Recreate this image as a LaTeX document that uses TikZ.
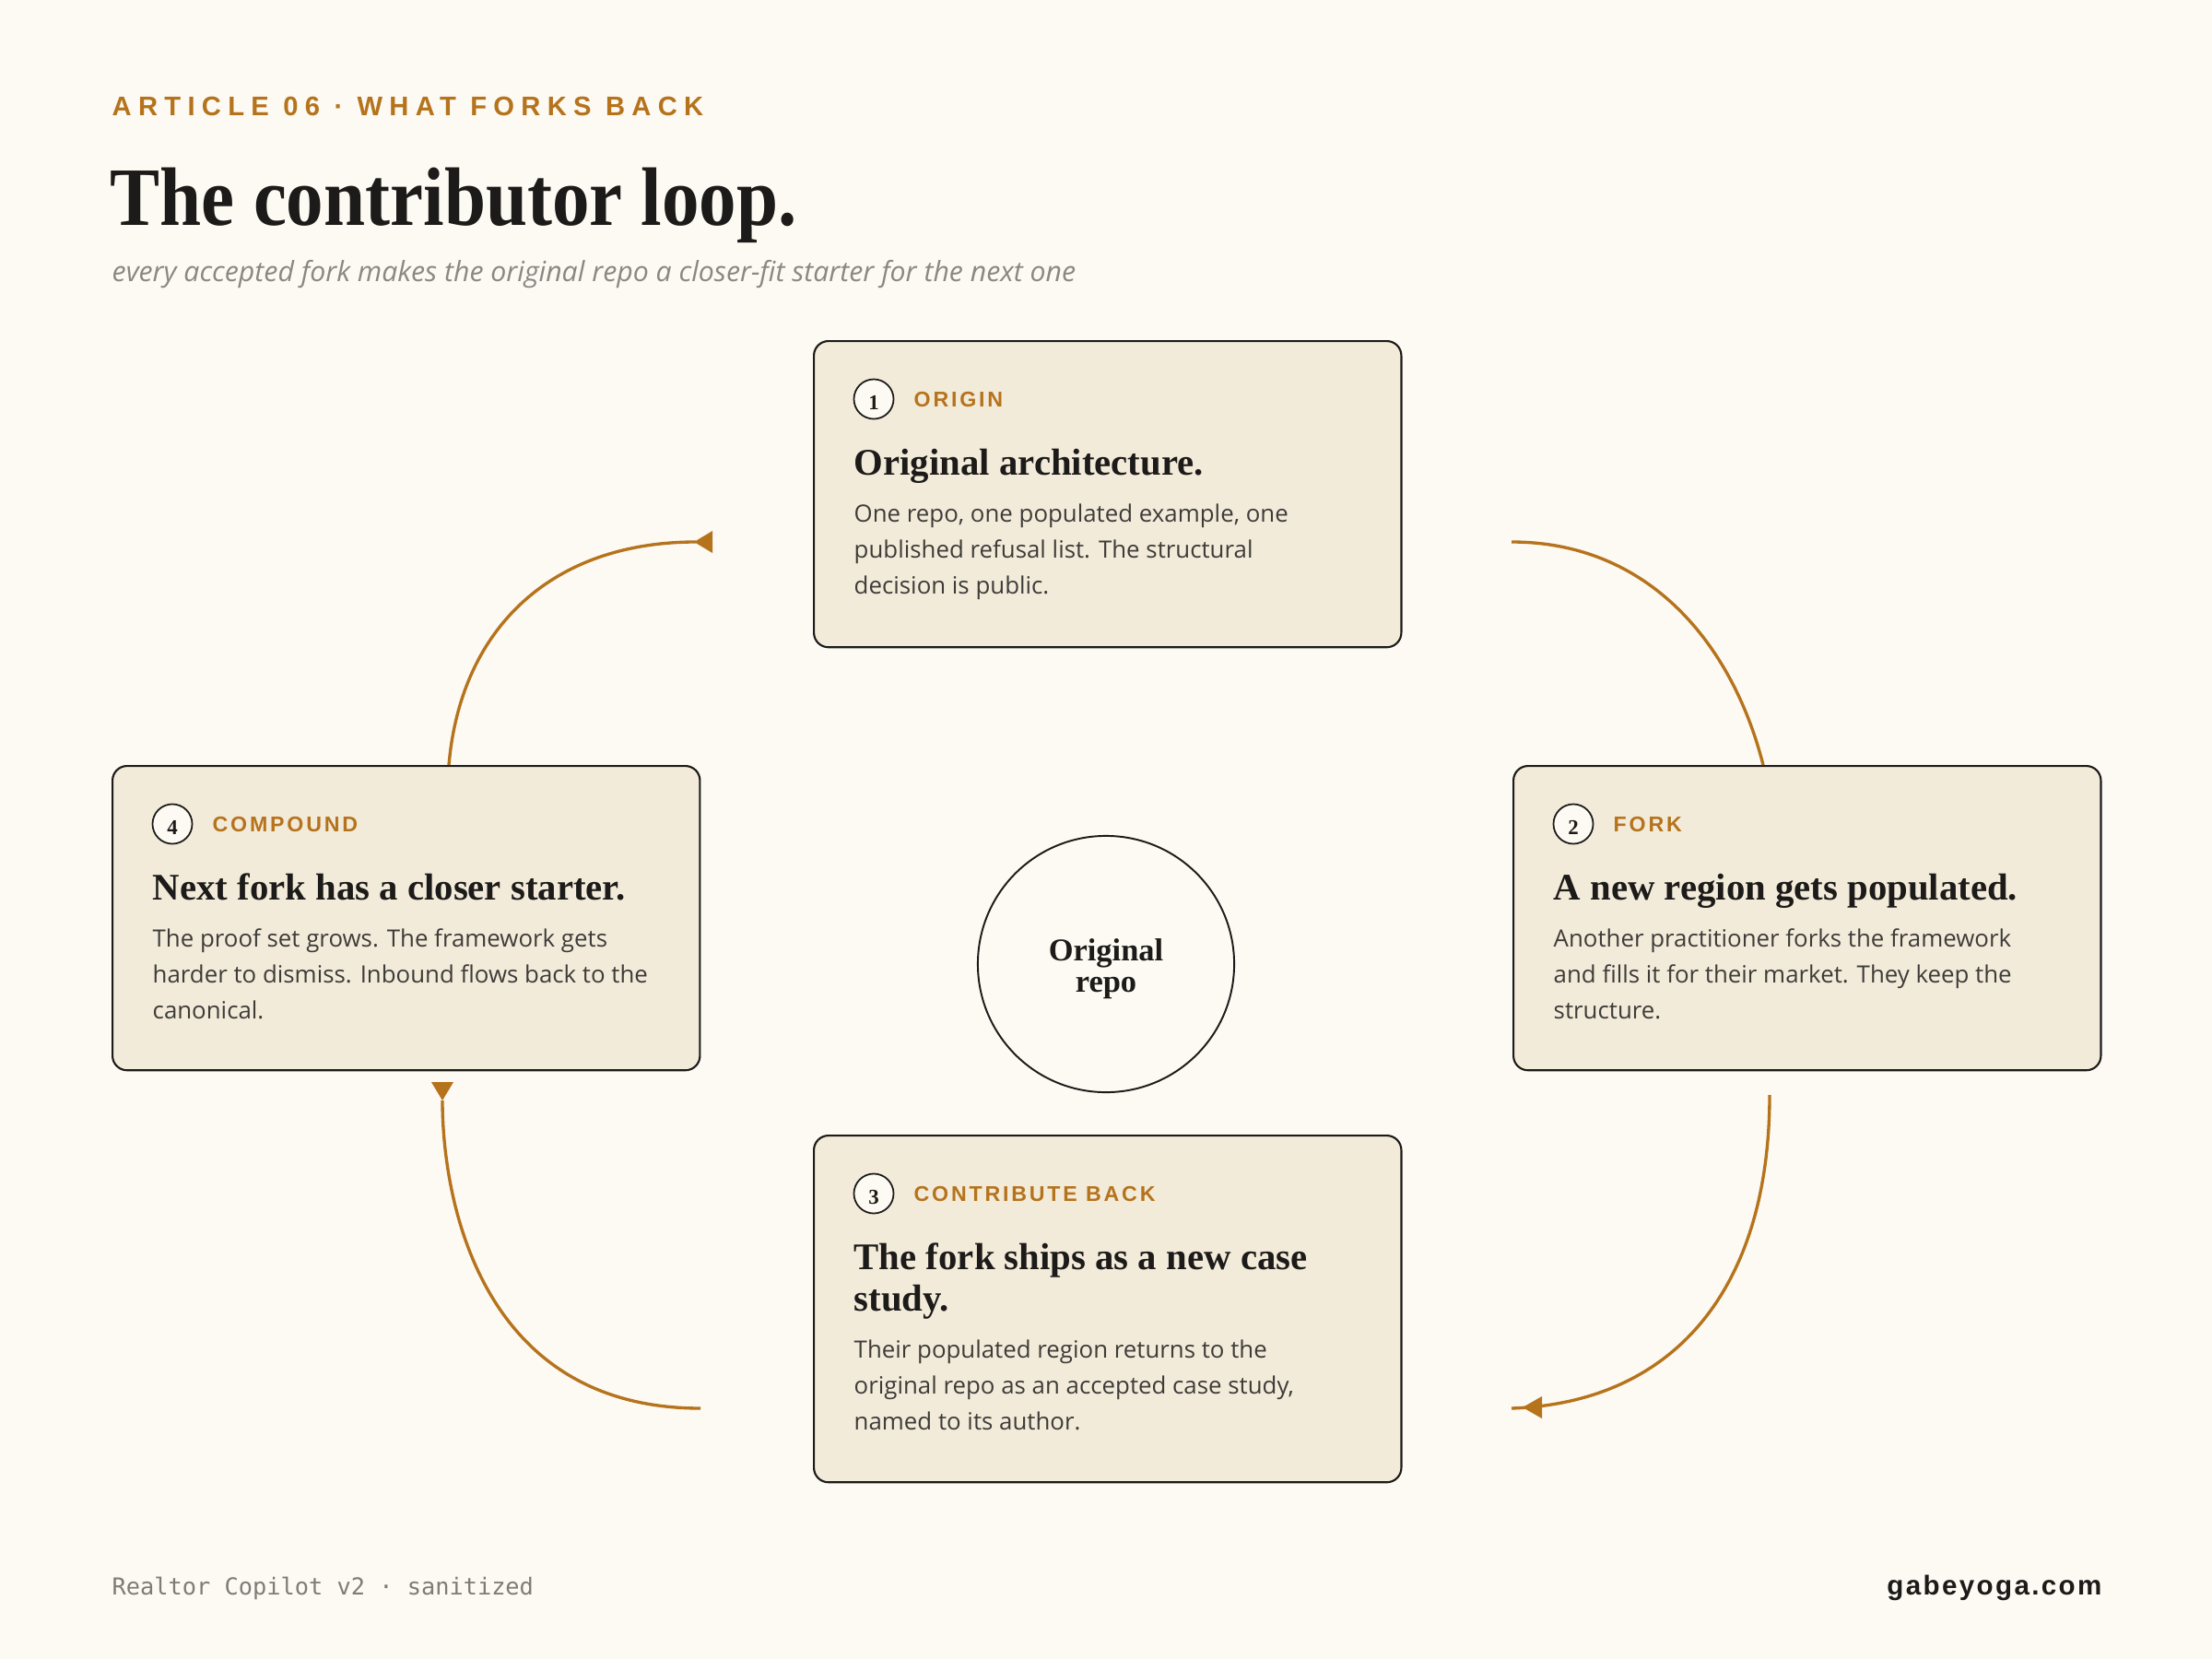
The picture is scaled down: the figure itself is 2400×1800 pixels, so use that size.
\documentclass[tikz,border=0pt]{standalone}
\usepackage{fontspec}
\setmainfont{Liberation Serif}
\newfontfamily\serifb{Liberation Serif}
\newfontfamily\titlef{Liberation Serif}[FakeStretch=0.9]
\newfontfamily\bodyf{Open Sans}
\newfontfamily\labf{Liberation Sans}[LetterSpace=12]
\newfontfamily\hdrf{Liberation Sans}[LetterSpace=25]
\newfontfamily\urlf{Liberation Sans}[LetterSpace=8]
\newfontfamily\monof{DejaVu Sans Mono}
\definecolor{bg}{HTML}{FDF9F3}
\definecolor{boxfill}{HTML}{F3EBDA}
\definecolor{ink}{HTML}{1C1B19}
\definecolor{brownc}{HTML}{B5731C}
\definecolor{bodyc}{HTML}{3E3C39}
\definecolor{subc}{HTML}{8A8884}
\definecolor{footc}{HTML}{7E7C79}
\tikzset{
  cardbox/.style={draw=ink, line width=0.6pt, fill=boxfill, rounded corners=4.5pt, anchor=north west, minimum width=6.37cm, inner sep=0},
  numc/.style={circle, draw=ink, line width=0.5pt, fill=bg, minimum size=0.43cm, inner sep=0, text height=6.3pt, text depth=0pt, text=ink, font=\serifb\bfseries\fontsize{6.5}{7}\selectfont},
  labt/.style={anchor=base west, inner sep=0, text=brownc, font=\labf\bfseries\fontsize{6.6}{8}\selectfont},
  headt/.style={anchor=base west, inner sep=0, text=ink, font=\serifb\bfseries\fontsize{11.6}{13}\selectfont},
  bodyt/.style={anchor=base west, inner sep=0, text=bodyc, font=\bodyf\fontsize{7.35}{9}\selectfont},
  arr/.style={draw=brownc, line width=0.95pt},
  tip/.style={fill=brownc},
}
\begin{document}
\begin{tikzpicture}[x=0.01cm, y=-0.01cm]
\fill[bg] (0,0) rectangle (2400,1800);
\useasboundingbox (0,0) rectangle (2400,1800);

% header
\node[anchor=base west, inner sep=0, text=brownc, font=\hdrf\bfseries\fontsize{8.3}{9}\selectfont] (hdr) at (121,125.5) {ARTICLE 06 · WHAT FORKS BACK};
\node[anchor=base west, inner sep=0, text=ink, font=\titlef\bfseries\fontsize{25.6}{30}\selectfont] (title) at (119,245) {The contributor loop.};
\node[anchor=base west, inner sep=0, text=subc, font=\bodyf\itshape\fontsize{8.6}{10}\selectfont] (sub) at (121,305) {every accepted fork makes the original repo a closer-fit starter for the next one};

% cards
\node[cardbox, minimum height=3.32cm] (c1) at (882,369) {};
\node[cardbox, minimum height=3.30cm] (c2) at (1641,830) {};
\node[cardbox, minimum height=3.76cm] (c3) at (882,1231) {};
\node[cardbox, minimum height=3.30cm] (c4) at (121,830) {};

% center circle
\node[circle, draw=ink, line width=0.55pt, minimum size=2.78cm, inner sep=0, align=center, text=ink, font=\serifb\bfseries\fontsize{9.8}{9.7}\selectfont] (repo) at (1200,1046) {\rule{0pt}{9.6pt}Original\\repo};

% card 1
\node[numc] (n1) at (948,433) {1};
\node[labt] (l1) at (991,441) {ORIGIN};
\node[headt] (h1) at (926,515) {Original architecture.};
\foreach \t [count=\i] in {{One repo, one populated example, one},{published refusal list. The structural},{decision is public.}}
  \node[bodyt] (b1l\i) at (926,{566+39*(\i-1)}) {\t};

% card 2
\node[numc] (n2) at (1707,894) {2};
\node[labt] (l2) at (1750,902) {FORK};
\node[headt] (h2) at (1685,976) {A new region gets populated.};
\foreach \t [count=\i] in {{Another practitioner forks the framework},{and fills it for their market. They keep the},{structure.}}
  \node[bodyt] (b2l\i) at (1685,{1027+39*(\i-1)}) {\t};

% card 3
\node[numc] (n3) at (948,1295) {3};
\node[labt] (l3) at (991,1303) {CONTRIBUTE BACK};
\node[headt] (h3a) at (926,1377) {The fork ships as a new case};
\node[headt] (h3b) at (926,1422) {study.};
\foreach \t [count=\i] in {{Their populated region returns to the},{original repo as an accepted case study,},{named to its author.}}
  \node[bodyt] (b3l\i) at (926,{1473+39*(\i-1)}) {\t};

% card 4
\node[numc] (n4) at (187,894) {4};
\node[labt] (l4) at (230,902) {COMPOUND};
\node[headt] (h4) at (165,976) {Next fork has a closer starter.};
\foreach \t [count=\i] in {{The proof set grows. The framework gets},{harder to dismiss. Inbound flows back to the},{canonical.}}
  \node[bodyt] (b4l\i) at (165,{1027+39*(\i-1)}) {\t};

% connectors
\coordinate (a1s) at (1640,588);
\coordinate (a1e) at (1913,830);
\draw[arr] (a1s) .. controls (1790,588) and (1880,700) .. (a1e);

\coordinate (a2s) at (1920,1188);
\coordinate (a2e) at (1640,1528);
\draw[arr] (a2s) .. controls (1920,1400) and (1815,1522) .. (a2e);
\fill[tip] (1652,1527) -- (1673,1515) -- (1673,1539) -- cycle;

\coordinate (a3s) at (760,1528);
\coordinate (a3e) at (480,1194);
\draw[arr] (a3s) .. controls (520,1528) and (480,1300) .. (a3e);
\fill[tip] (480,1194) -- (468,1174) -- (492,1174) -- cycle;

\coordinate (a4s) at (487,830);
\coordinate (a4e) at (755,588);
\draw[arr] (a4s) .. controls (500,680) and (600,588) .. (a4e);
\fill[tip] (753,588) -- (773,576) -- (773,600) -- cycle;

% footer
\node[anchor=base west, inner sep=0, text=footc, font=\monof\fontsize{7.2}{9}\selectfont] (foot) at (121,1730) {Realtor Copilot v2 · sanitized};
\node[anchor=base east, inner sep=0, text=ink, font=\urlf\bfseries\fontsize{8.4}{10}\selectfont] (url) at (2281,1730) {gabeyoga.com};
\end{tikzpicture}
\end{document}
